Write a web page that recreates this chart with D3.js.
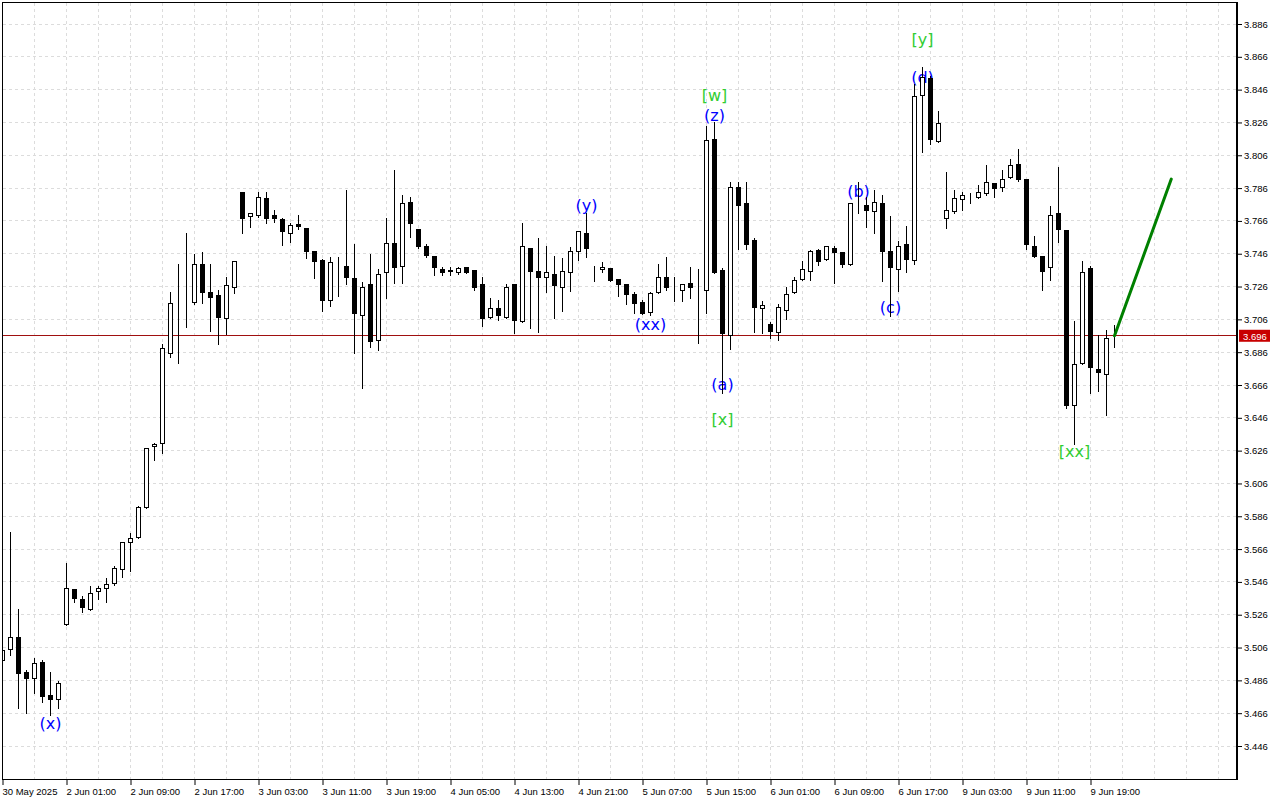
<!DOCTYPE html>
<html><head><meta charset="utf-8">
<script src="https://cdn.jsdelivr.net/npm/d3@7"></script>
<style>html,body{margin:0;padding:0;background:#fff;overflow:hidden}</style>
</head><body>
<svg id="chart" width="1280" height="800"></svg>
<script>
// ---------- DATA ----------
const opens = [3.4984,3.5051,3.5123,3.4909,3.4873,3.4970,3.4765,3.4745,3.5202,3.5415,
3.5354,3.5293,3.5403,3.5421,3.5452,3.5533,3.5702,3.5732,3.5915,3.6288,
3.6305,3.6853,3.7144,3.7156,3.7162,3.7396,3.7225,3.7207,3.7067,3.7256,
3.7834,3.7688,3.7694,3.7798,3.7690,3.7666,3.7585,3.7637,3.7615,3.7471,
3.7416,3.7176,3.7393,3.7385,3.7306,3.7085,3.7270,3.6933,3.7347,3.7524,
3.7381,3.7774,3.7609,3.7507,3.7446,3.7365,3.7355,3.7347,3.7377,3.7357,
3.7270,3.7070,3.7128,3.7073,3.7270,3.7048,3.7493,3.7349,3.7314,3.7335,
3.7256,3.7347,3.7471,3.7585,3.7357,3.7363,3.7367,3.7300,3.7270,3.7209,
3.7164,3.7103,3.7225,3.7316,3.7245,3.7235,3.7276,3.7243,3.7235,3.8159,
3.7355,3.6961,3.7862,3.7767,3.7538,3.7129,3.7026,3.6977,3.7113,3.7225,
3.7304,3.7353,3.7477,3.7426,3.7493,3.7469,3.7396,3.7771,3.7755,3.7719,
3.7767,3.7471,3.7363,3.7518,3.7418,3.8427,3.8529,3.8145,3.7676,3.7716,
3.7788,3.7802,3.7804,3.7828,3.7889,3.7865,3.7926,3.8005,3.7914,3.7505,
3.7442,3.7377,3.7706,3.7599,3.6534,3.6792,3.7367,3.6756,3.6725,3.6962];
const highs = [3.5070,3.5764,3.5293,3.4923,3.4995,3.4984,3.4913,3.4856,3.5577,3.5417,
3.5374,3.5435,3.5435,3.5482,3.5557,3.5705,3.5756,3.5923,3.6276,3.6309,
3.6910,3.7225,3.7398,3.7588,3.7458,3.7471,3.7398,3.7239,3.7316,3.7416,
3.7836,3.7706,3.7834,3.7834,3.7727,3.7676,3.7649,3.7696,3.7617,3.7473,
3.7428,3.7438,3.7438,3.7848,3.7519,3.7286,3.7457,3.7367,3.7676,3.7970,
3.7818,3.7804,3.7611,3.7519,3.7448,3.7377,3.7377,3.7377,3.7379,3.7359,
3.7316,3.7189,3.7178,3.7274,3.7272,3.7646,3.7495,3.7554,3.7507,3.7446,
3.7436,3.7503,3.7599,3.7706,3.7385,3.7408,3.7370,3.7302,3.7276,3.7225,
3.7178,3.7229,3.7398,3.7442,3.7316,3.7276,3.7377,3.7367,3.8240,3.8261,
3.7375,3.7895,3.7895,3.7895,3.7554,3.7174,3.7044,3.7154,3.7259,3.7316,
3.7418,3.7483,3.7489,3.7507,3.7507,3.7471,3.7769,3.7895,3.7808,3.7848,
3.7818,3.7690,3.7536,3.7629,3.8493,3.8596,3.8545,3.8330,3.7956,3.7848,
3.7834,3.7832,3.7879,3.8001,3.7891,3.7970,3.8036,3.8098,3.7916,3.7568,
3.7444,3.7751,3.7990,3.7601,3.7050,3.7416,3.7385,3.6965,3.6995,3.7026];
const lows = [3.4972,3.5015,3.4690,3.4660,3.4781,3.4730,3.4649,3.4690,3.5195,3.5340,
3.5279,3.5291,3.5354,3.5340,3.5441,3.5492,3.5529,3.5730,3.5913,3.6203,
3.6244,3.6833,3.6792,3.7015,3.7154,3.7162,3.6991,3.6910,3.6971,3.7223,
3.7585,3.7625,3.7686,3.7646,3.7655,3.7513,3.7532,3.7613,3.7436,3.7314,
3.7113,3.7143,3.7204,3.7274,3.6853,3.6644,3.6894,3.6873,3.7189,3.7284,
3.7284,3.7564,3.7495,3.7442,3.7330,3.7330,3.7330,3.7335,3.7345,3.7239,
3.7022,3.7067,3.7056,3.7071,3.6975,3.7046,3.7006,3.6985,3.7225,3.7067,
3.7113,3.7235,3.7422,3.7442,3.7296,3.7347,3.7294,3.7203,3.7154,3.7097,
3.7095,3.7085,3.7223,3.7239,3.7174,3.7174,3.7189,3.6914,3.7097,3.7345,
3.6613,3.6878,3.7487,3.7487,3.6985,3.6977,3.6947,3.6934,3.7062,3.7223,
3.7302,3.7300,3.7393,3.7424,3.7284,3.7377,3.7394,3.7706,3.7625,3.7585,
3.7296,3.7081,3.7235,3.7351,3.7396,3.8082,3.8127,3.8143,3.7615,3.7706,
3.7727,3.7767,3.7798,3.7818,3.7804,3.7844,3.7924,3.7905,3.7487,3.7440,
3.7241,3.7298,3.7533,3.6522,3.6301,3.6790,3.6613,3.6625,3.6477,3.6894];
const closes = [3.5045,3.5123,3.4903,3.4873,3.4964,3.4761,3.4745,3.4842,3.5421,3.5360,
3.5306,3.5391,3.5417,3.5446,3.5543,3.5702,3.5726,3.5915,3.6274,3.6295,
3.6884,3.7158,3.7146,3.7158,3.7396,3.7223,3.7192,3.7073,3.7268,3.7410,
3.7676,3.7706,3.7804,3.7676,3.7674,3.7594,3.7633,3.7625,3.7472,3.7412,
3.7174,3.7408,3.7396,3.7316,3.7093,3.7257,3.6924,3.7335,3.7524,3.7375,
3.7767,3.7646,3.7503,3.7452,3.7377,3.7344,3.7353,3.7367,3.7347,3.7256,
3.7067,3.7128,3.7082,3.7256,3.7052,3.7503,3.7351,3.7314,3.7347,3.7265,
3.7353,3.7475,3.7597,3.7491,3.7359,3.7377,3.7296,3.7271,3.7213,3.7158,
3.7097,3.7215,3.7316,3.7256,3.7243,3.7270,3.7256,3.7241,3.8147,3.7347,
3.6971,3.7865,3.7753,3.7519,3.7131,3.7146,3.6989,3.7134,3.7213,3.7298,
3.7365,3.7471,3.7414,3.7505,3.7469,3.7396,3.7767,3.7774,3.7725,3.7774,
3.7475,3.7377,3.7503,3.7426,3.8417,3.8535,3.8157,3.8255,3.7722,3.7798,
3.7814,3.7804,3.7834,3.7895,3.7859,3.7914,3.7999,3.7914,3.7518,3.7442,
3.7351,3.7692,3.7609,3.6538,3.6786,3.7347,3.6766,3.6738,3.6945,3.6960];

const priceTicks = [3.446,3.466,3.486,3.506,3.526,3.546,3.566,3.586,3.606,3.626,3.646,3.666,
3.686,3.706,3.726,3.746,3.766,3.786,3.806,3.826,3.846,3.866,3.886];
const timeLabels = ["30 May 2025","2 Jun 01:00","2 Jun 09:00","2 Jun 17:00","3 Jun 03:00","3 Jun 11:00",
"3 Jun 19:00","4 Jun 05:00","4 Jun 13:00","4 Jun 21:00","5 Jun 07:00","5 Jun 15:00",
"6 Jun 01:00","6 Jun 09:00","6 Jun 17:00","9 Jun 03:00","9 Jun 11:00","9 Jun 19:00"];
const timeLabelBars = [0,8,16,24,32,40,48,56,64,72,80,88,96,104,112,120,128,136];

const waveTexts  = ["(x)","(y)","(xx)","(z)","[w]","(a)","[x]","(b)","(c)","(d)","[y]","[xx]"];
const waveBars   = [6,73,81,89,89,90,90,107,111,115,115,134];
const wavePrices = [3.4600,3.7753,3.7028,3.8305,3.8427,3.6666,3.6447,3.7838,3.7132,3.8537,3.8763,3.6252];
const waveDegree = ["minor","minor","minor","minor","major","minor","major","minor","minor","minor","major","major"];

const currentPrice = 3.696;
const forecastBars = [139, 146.1];
const forecastPrices = [3.696, 3.7915];

// ---------- LAYOUT ----------
const W = 1280, H = 800;
const plot = {left: 2, top: 2, right: 1237, bottom: 779};
const svg = d3.select("#chart");

const x = d3.scaleLinear().domain([0, 154.3125]).range([2.5, 1237]);
const y = d3.scaleLinear().domain([3.446, 3.886]).range([746, 24]);
const crisp = v => Math.round(v - 0.5) + 0.5;

svg.append("rect").attr("width", W).attr("height", H).attr("fill", "#fff");

svg.append("defs").append("clipPath").attr("id", "plotClip")
  .append("rect").attr("x", plot.left + 1).attr("y", plot.top + 1)
  .attr("width", plot.right - plot.left - 2).attr("height", plot.bottom - plot.top - 1);

// grid
const grid = svg.append("g").attr("stroke", "#dcdcdc").attr("stroke-dasharray", "3,3").attr("stroke-width", 1);
grid.selectAll("line.h").data(priceTicks).join("line")
  .attr("x1", plot.left + 1).attr("x2", plot.right - 1)
  .attr("y1", d => crisp(y(d))).attr("y2", d => crisp(y(d)));
const vBars = d3.range(0, 155, 4);
grid.selectAll("line.v").data(vBars).join("line")
  .attr("x1", d => x(d)).attr("x2", d => x(d))
  .attr("y1", plot.top + 1).attr("y2", plot.bottom);

const g = svg.append("g").attr("clip-path", "url(#plotClip)");

// wave labels (drawn under candles)
g.append("g").selectAll("text").data(waveTexts).join("text")
  .attr("x", (d, i) => x(waveBars[i]))
  .attr("y", (d, i) => y(wavePrices[i]))
  .attr("text-anchor", "middle").attr("dominant-baseline", "central")
  .attr("font-family", "DejaVu Sans, Verdana, sans-serif").attr("font-size", 16)
  .attr("fill", (d, i) => waveDegree[i] === "major" ? "#32cd32" : "#0000ff")
  .text(d => d);

// current price line
g.append("line").attr("x1", plot.left).attr("x2", plot.right)
  .attr("y1", crisp(y(currentPrice))).attr("y2", crisp(y(currentPrice)))
  .attr("stroke", "#a01010").attr("stroke-width", 1);

// candles
const idx = d3.range(opens.length);
const cg = g.append("g");
cg.selectAll("line.wick").data(idx).join("line")
  .attr("x1", i => x(i)).attr("x2", i => x(i))
  .attr("y1", i => Math.round(y(highs[i]))).attr("y2", i => Math.round(y(lows[i])) + 1)
  .attr("stroke", "#000").attr("stroke-width", 1);
cg.selectAll("rect.body").data(idx).join("rect")
  .attr("x", i => x(i) - 2).attr("width", 4)
  .attr("y", i => crisp(y(Math.max(opens[i], closes[i]))))
  .attr("height", i => Math.max(0, crisp(y(Math.min(opens[i], closes[i]))) - crisp(y(Math.max(opens[i], closes[i])))))
  .attr("fill", i => closes[i] >= opens[i] ? "#fff" : "#000")
  .attr("stroke", "#000").attr("stroke-width", 1);

// forecast arrow
g.append("line")
  .attr("x1", x(forecastBars[0])).attr("y1", y(forecastPrices[0]))
  .attr("x2", x(forecastBars[1])).attr("y2", y(forecastPrices[1]))
  .attr("stroke", "#008000").attr("stroke-width", 3).attr("stroke-linecap", "round");

// frame
svg.append("line").attr("x1", plot.left + 0.5).attr("x2", plot.left + 0.5).attr("y1", plot.top).attr("y2", plot.bottom + 1).attr("stroke", "#000");
svg.append("line").attr("x1", plot.left).attr("x2", plot.right + 1).attr("y1", plot.top + 0.5).attr("y2", plot.top + 0.5).attr("stroke", "#000");
svg.append("line").attr("x1", plot.left).attr("x2", plot.right + 1).attr("y1", plot.bottom + 0.5).attr("y2", plot.bottom + 0.5).attr("stroke", "#000");
svg.append("line").attr("x1", plot.right).attr("x2", plot.right).attr("y1", plot.top).attr("y2", plot.bottom + 1).attr("stroke", "#000").attr("stroke-width", 2);

// right price axis
const yAxis = d3.axisRight(y).tickValues(priceTicks).tickFormat(d3.format(".3f")).tickSize(4).tickPadding(2);
const ya = svg.append("g").attr("transform", `translate(${plot.right + 1},0)`).call(yAxis);
ya.select(".domain").remove();
ya.selectAll("text").attr("font-family", "Liberation Sans, Arial, sans-serif").attr("font-size", 9.5).attr("fill", "#000");
ya.selectAll("line").attr("stroke", "#000");

// bottom time axis
const xAxis = d3.axisBottom(x).tickValues(timeLabelBars).tickFormat((d, i) => timeLabels[i]).tickSize(5).tickPadding(3);
const xa = svg.append("g").attr("transform", `translate(0,${plot.bottom + 1})`).call(xAxis);
xa.select(".domain").remove();
xa.selectAll("line").attr("stroke", "#000");
xa.selectAll("text").attr("text-anchor", "start").attr("dx", "-0.5")
  .attr("font-family", "Liberation Sans, Arial, sans-serif").attr("font-size", 9.5).attr("fill", "#000");

// current price tag
const tag = svg.append("g").attr("transform", `translate(${plot.right + 2},${y(currentPrice)})`);
tag.append("rect").attr("x", 0).attr("y", -6).attr("width", 31).attr("height", 12).attr("fill", "#c80000");
tag.append("text").attr("x", 4).attr("y", 0.5).attr("dominant-baseline", "central")
  .attr("font-family", "Liberation Sans, Arial, sans-serif").attr("font-size", 9.5).attr("fill", "#fff")
  .text(d3.format(".3f")(currentPrice));
</script>
</body></html>
